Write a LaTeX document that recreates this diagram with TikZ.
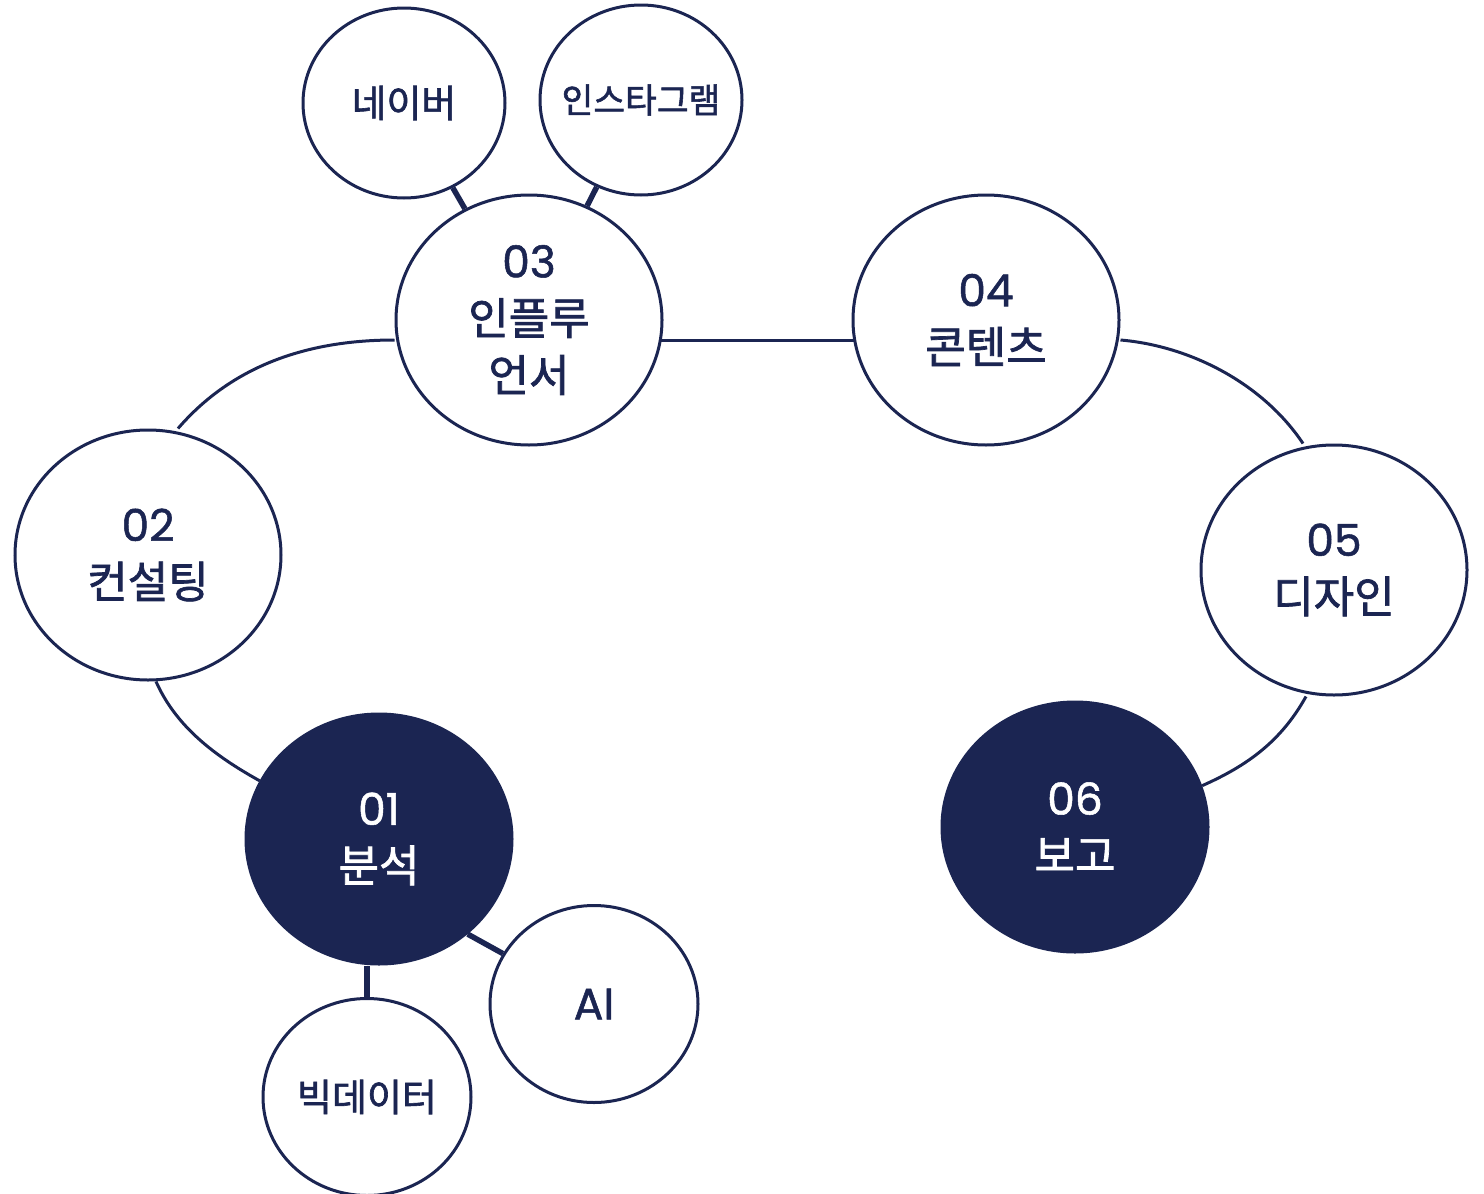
\documentclass[tikz,border=0pt]{standalone}
\usepackage{fontspec}
\newfontfamily\krfont[FakeBold=1.6]{Noto Sans CJK KR}
\newfontfamily\numfont[FakeBold=1.2]{Poppins}
\usetikzlibrary{shapes.geometric,backgrounds}
\definecolor{navy}{HTML}{1B2552}
\tikzset{
  stage/.style={ellipse, draw=navy, line width=3pt, fill=white, text=navy,
    minimum width=266pt, minimum height=250pt, inner sep=0pt, align=center,
    font=\krfont\fontsize{44}{57}\selectfont},
  keystage/.style={stage, fill=navy, text=white},
  channel/.style={ellipse, draw=navy, line width=3pt, fill=white, text=navy,
    minimum width=202pt, minimum height=190pt, inner sep=0pt,
    font=\krfont\fontsize{38}{46}\selectfont},
  ring/.style={draw=navy, line width=3pt},
  spoke/.style={draw=navy, line width=5.5pt}
}
\begin{document}
\begin{tikzpicture}[x=1pt, y=-1pt]
    \useasboundingbox (0,0) rectangle (1484,1194);

    % main steps
    \node[keystage] (n01) at (379,839) {{\numfont 01}\\분석};
    \node[stage] (n02) at (148,555) {{\numfont 02}\\컨설팅};
    \node[stage] (n03) at (529,320) {{\numfont 03}\\인플루\\언서};
    \node[stage] (n04) at (986,320) {{\numfont 04}\\콘텐츠};
    \node[stage] (n05) at (1334,570) {{\numfont 05}\\디자인};
    \node[keystage] (n06) at (1075,827) {{\numfont 06}\\보고};

    % side channels
    \node[channel] (naver) at (404,103) {네이버};
    \node[channel, inner xsep=-14pt, font=\krfont\fontsize{34.5}{40}\selectfont] (insta) at (641,100) {인스타그램};
    \node[channel, minimum width=208pt, minimum height=197pt,
      font=\numfont\fontsize{44}{50}\selectfont] (ai) at (594,1004) {AI};
    \node[channel, inner xsep=-6pt, minimum width=208pt, minimum height=197pt] (bigdata) at (367,1097) {빅데이터};

    \begin{pgfonlayer}{background}
        \draw[ring] ([xshift=8pt]n02.south) .. controls +(20,45) and +(-45,-25) .. (n01.154);
        \draw[ring] ([xshift=30pt]n02.north) .. controls +(50,-58) and +(-95,0) .. ([yshift=-20pt]n03.west);
        \draw[ring] ([yshift=-20pt]n03.center) -- ([yshift=-20pt]n04.center);
        \draw[ring] ([yshift=-20pt]n04.east) .. controls +(70,6) and +(-40,-60) .. ([xshift=-31pt]n05.north);
        \draw[ring] ([xshift=-28pt]n05.south) .. controls +(-25,45) and +(45,-20) .. (n06.18);
        \draw[spoke] (naver) -- (n03);
        \draw[spoke] (insta) -- (n03);
        \draw[spoke] (ai) -- (n01.-47);
        \draw[spoke] (bigdata.north) -- (bigdata.north |- n01.south);
    \end{pgfonlayer}
\end{tikzpicture}
\end{document}
